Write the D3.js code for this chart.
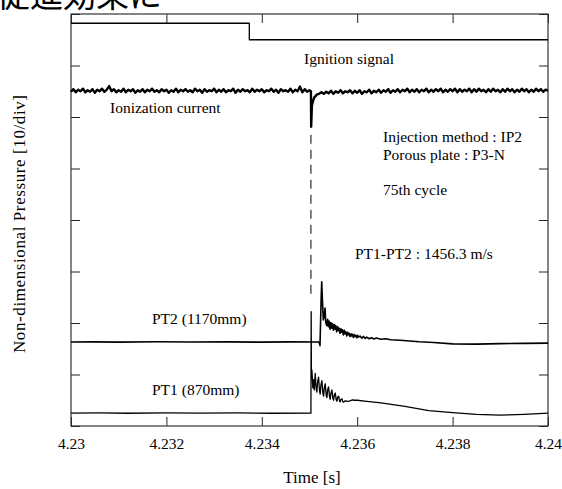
<!DOCTYPE html>
<html>
<head>
<meta charset="utf-8">
<script src="https://cdn.jsdelivr.net/npm/d3@7"></script>
<style>
  body { margin: 0; background: #fff; }
  svg { display: block; font-family: "Liberation Serif", "DejaVu Serif", serif; }
</style>
</head>
<body>
<svg id="canvas" width="562" height="489"></svg>
<script>
'use strict';

/* x axis ticks (time in s) */
var timeTicks = [4.23, 4.232, 4.234, 4.236, 4.238, 4.24];
var timeLabels = ['4.23', '4.232', '4.234', '4.236', '4.238', '4.24'];
/* y axis: 8 divisions, no labels */
var divTicks = [0, 1, 2, 3, 4, 5, 6, 7, 8];

/* ignition signal [t, div] */
var ignition = [[4.23, 7.82], [4.233738, 7.82], [4.233738, 7.50], [4.24, 7.50]];

/* ionization current [t, div] */
var ionization = [
  [4.23000, 6.49], [4.23005, 6.54], [4.23010, 6.48], [4.23015, 6.53], [4.23020, 6.50],
  [4.23025, 6.55], [4.23030, 6.48], [4.23035, 6.52], [4.23040, 6.49], [4.23045, 6.54],
  [4.23050, 6.47], [4.23055, 6.53], [4.23060, 6.50], [4.23065, 6.55], [4.23070, 6.49],
  [4.23075, 6.53], [4.23080, 6.60], [4.23085, 6.50], [4.23090, 6.54], [4.23095, 6.48],
  [4.23100, 6.52], [4.23105, 6.49], [4.23110, 6.55], [4.23115, 6.48], [4.23120, 6.53],
  [4.23125, 6.50], [4.23130, 6.54], [4.23135, 6.47], [4.23140, 6.52], [4.23145, 6.49],
  [4.23150, 6.54], [4.23155, 6.48], [4.23160, 6.53], [4.23165, 6.50], [4.23170, 6.55],
  [4.23175, 6.49], [4.23180, 6.52], [4.23185, 6.48], [4.23190, 6.54], [4.23195, 6.50],
  [4.23200, 6.53], [4.23205, 6.47], [4.23210, 6.52], [4.23215, 6.49], [4.23220, 6.55],
  [4.23225, 6.48], [4.23230, 6.53], [4.23235, 6.50], [4.23240, 6.54], [4.23245, 6.49],
  [4.23250, 6.52], [4.23255, 6.48], [4.23260, 6.55], [4.23265, 6.50], [4.23270, 6.53],
  [4.23275, 6.47], [4.23280, 6.54], [4.23285, 6.49], [4.23290, 6.52], [4.23295, 6.50],
  [4.23300, 6.55], [4.23305, 6.48], [4.23310, 6.53], [4.23315, 6.49], [4.23320, 6.54],
  [4.23325, 6.48], [4.23330, 6.52], [4.23335, 6.50], [4.23340, 6.55], [4.23345, 6.47],
  [4.23350, 6.53], [4.23355, 6.49], [4.23360, 6.54], [4.23365, 6.50], [4.23370, 6.52],
  [4.23375, 6.48], [4.23380, 6.55], [4.23385, 6.49], [4.23390, 6.53], [4.23395, 6.50],
  [4.23400, 6.54], [4.23405, 6.48], [4.23410, 6.52], [4.23415, 6.50], [4.23420, 6.55],
  [4.23425, 6.49], [4.23430, 6.53], [4.23435, 6.47], [4.23440, 6.54], [4.23445, 6.50],
  [4.23450, 6.52], [4.23455, 6.49], [4.23460, 6.55], [4.23465, 6.48], [4.23470, 6.53],
  [4.23475, 6.50], [4.23480, 6.59], [4.23485, 6.48], [4.23490, 6.54], [4.23495, 6.49],
  [4.23500, 6.52], [4.23503, 6.50], [4.235035, 5.81], [4.23505, 6.22], [4.23507, 6.30],
  [4.23510, 6.38], [4.23513, 6.41], [4.23516, 6.44], [4.23520, 6.45], [4.23525, 6.48],
  [4.23530, 6.45], [4.23535, 6.49],
  [4.23540, 6.46], [4.23545, 6.51], [4.23550, 6.45], [4.23555, 6.50], [4.23560, 6.47],
  [4.23565, 6.52], [4.23570, 6.46], [4.23575, 6.50], [4.23580, 6.48], [4.23585, 6.52],
  [4.23590, 6.46], [4.23595, 6.51], [4.23600, 6.47], [4.23605, 6.52], [4.23610, 6.45],
  [4.23615, 6.50], [4.23620, 6.48], [4.23625, 6.53], [4.23630, 6.46], [4.23635, 6.51],
  [4.23640, 6.48], [4.23645, 6.53], [4.23650, 6.47], [4.23655, 6.52], [4.23660, 6.49],
  [4.23665, 6.54], [4.23670, 6.47], [4.23675, 6.52], [4.23680, 6.49], [4.23685, 6.54],
  [4.23690, 6.48], [4.23695, 6.53], [4.23700, 6.50], [4.23705, 6.55], [4.23710, 6.48],
  [4.23715, 6.53], [4.23720, 6.49], [4.23725, 6.54], [4.23730, 6.48], [4.23735, 6.53],
  [4.23740, 6.50], [4.23745, 6.55], [4.23750, 6.48], [4.23755, 6.53], [4.23760, 6.49],
  [4.23765, 6.54], [4.23770, 6.50], [4.23775, 6.55], [4.23780, 6.48], [4.23785, 6.53],
  [4.23790, 6.49], [4.23795, 6.54], [4.23800, 6.50], [4.23805, 6.55], [4.23810, 6.48],
  [4.23815, 6.54], [4.23820, 6.49], [4.23825, 6.53], [4.23830, 6.50], [4.23835, 6.55],
  [4.23840, 6.48], [4.23845, 6.54], [4.23850, 6.49], [4.23855, 6.55], [4.23860, 6.50],
  [4.23865, 6.53], [4.23870, 6.48], [4.23875, 6.54], [4.23880, 6.49], [4.23885, 6.55],
  [4.23890, 6.50], [4.23895, 6.53], [4.23900, 6.48], [4.23905, 6.54], [4.23910, 6.49],
  [4.23915, 6.55], [4.23920, 6.50], [4.23925, 6.54], [4.23930, 6.48], [4.23935, 6.53],
  [4.23940, 6.49], [4.23945, 6.55], [4.23950, 6.50], [4.23955, 6.54], [4.23960, 6.48],
  [4.23965, 6.53], [4.23970, 6.49], [4.23975, 6.55], [4.23980, 6.50], [4.23985, 6.54],
  [4.23990, 6.49], [4.23995, 6.53], [4.24000, 6.51]
];

/* PT2 (1170mm) pressure [t, div] */
var pt2 = [
  [4.2300, 1.63], [4.2305, 1.634], [4.2310, 1.628], [4.2318, 1.635], [4.2325, 1.63],
  [4.2333, 1.633], [4.2340, 1.628], [4.2346, 1.634], [4.2352, 1.63], [4.23522, 1.56],
  [4.235245, 2.50], [4.235256, 2.80], [4.23527, 2.45], [4.23529, 2.06], [4.23531, 2.15],
  [4.235325, 2.29], [4.23534, 2.02], [4.23536, 1.95], [4.23538, 2.07], [4.235395, 1.93],
  [4.23541, 2.04], [4.23543, 1.88], [4.235445, 2.01], [4.235465, 1.90], [4.23548, 1.99],
  [4.2355, 1.86], [4.23552, 1.97], [4.235535, 1.88], [4.23555, 1.95], [4.23557, 1.83],
  [4.23559, 1.93], [4.235605, 1.85], [4.23562, 1.90], [4.23564, 1.80], [4.23566, 1.89],
  [4.235675, 1.82], [4.23569, 1.87], [4.23571, 1.77], [4.23573, 1.86], [4.235745, 1.79],
  [4.23576, 1.83], [4.23578, 1.75], [4.2358, 1.82], [4.235815, 1.77], [4.23583, 1.80],
  [4.23585, 1.74], [4.23587, 1.79], [4.235885, 1.75], [4.2359, 1.78], [4.23592, 1.72],
  [4.23594, 1.775], [4.235955, 1.74], [4.23597, 1.76], [4.23599, 1.715], [4.23601, 1.76],
  [4.236025, 1.725], [4.23606, 1.745], [4.2361, 1.705], [4.23613, 1.74], [4.23617, 1.70],
  [4.2362, 1.725], [4.23625, 1.695], [4.2363, 1.715], [4.23635, 1.69], [4.2364, 1.71],
  [4.2365, 1.685], [4.2366, 1.695], [4.2367, 1.675], [4.2369, 1.665], [4.2371, 1.65],
  [4.2373, 1.635], [4.2376, 1.62], [4.2380, 1.595], [4.2385, 1.59], [4.2390, 1.60],
  [4.2395, 1.605], [4.2400, 1.61]
];

/* PT1 (870mm) pressure [t, div] */
var pt1 = [
  [4.2300, 0.25], [4.2306, 0.254], [4.2312, 0.248], [4.2320, 0.253], [4.2327, 0.249],
  [4.2335, 0.254], [4.2342, 0.248], [4.23503, 0.25], [4.235035, 2.22], [4.23504, 0.95],
  [4.23505, 1.09], [4.23507, 0.74], [4.235085, 0.90], [4.2351, 0.70], [4.23512, 1.02],
  [4.23514, 0.72], [4.235155, 0.66], [4.23517, 0.86], [4.23519, 0.95], [4.23521, 0.68],
  [4.235225, 0.62], [4.23524, 0.80], [4.23526, 0.88], [4.23528, 0.64], [4.235295, 0.58],
  [4.23531, 0.74], [4.23533, 0.82], [4.23535, 0.60], [4.235365, 0.55], [4.23538, 0.70],
  [4.2354, 0.76], [4.23542, 0.57], [4.235435, 0.52], [4.23545, 0.64], [4.23547, 0.70],
  [4.23549, 0.54], [4.235505, 0.50], [4.23552, 0.60], [4.23554, 0.64], [4.23556, 0.51],
  [4.235575, 0.48], [4.23559, 0.56], [4.23561, 0.58], [4.23563, 0.49], [4.235645, 0.47],
  [4.23566, 0.52], [4.23568, 0.53], [4.2357, 0.47], [4.235715, 0.465], [4.23575, 0.49],
  [4.2358, 0.48], [4.23585, 0.49], [4.2359, 0.505], [4.23595, 0.50], [4.2360, 0.50],
  [4.2362, 0.48], [4.2365, 0.45], [4.2370, 0.38], [4.2375, 0.30], [4.2380, 0.26],
  [4.2385, 0.225], [4.2390, 0.21], [4.2395, 0.225], [4.2400, 0.25]
];

/* dashed marker between the ionization dip and the PT spike */
var marker = { t: 4.23503, from: 5.81, to: 2.22 };

var app;

class Application {

  constructor() {
    this._svg = d3.select('svg#canvas');
    this._x = d3.scaleLinear().domain([4.23, 4.24]).range([71, 548]);
    this._y = d3.scaleLinear().domain([0, 8]).range([426, 14]);
  }

  /* frame and inward ticks on the four sides */
  drawAxes() {
    let x = this._x, y = this._y, svg = this._svg;
    let tick = 9;

    let bottom = svg.append('g')
      .attr('transform', 'translate(0,' + y(0) + ')')
      .call(d3.axisBottom(x).tickValues(timeTicks).tickSize(-tick).tickPadding(12)
        .tickFormat(function(d, i){ return timeLabels[i]; }));
    let top = svg.append('g')
      .attr('transform', 'translate(0,' + y(8) + ')')
      .call(d3.axisTop(x).tickValues(timeTicks).tickSize(-tick).tickFormat(''));
    let left = svg.append('g')
      .attr('transform', 'translate(' + x(4.23) + ',0)')
      .call(d3.axisLeft(y).tickValues(divTicks).tickSize(-tick).tickFormat(''));
    let right = svg.append('g')
      .attr('transform', 'translate(' + x(4.24) + ',0)')
      .call(d3.axisRight(y).tickValues(divTicks).tickSize(-tick).tickFormat(''));

    [bottom, top, left, right].forEach(function(g){
      g.select('.domain').remove();
      g.attr('font-family', '"Liberation Serif", serif');
      g.selectAll('line').attr('stroke', '#222').attr('stroke-width', 1);
    });
    bottom.attr('font-size', 15.5);
    bottom.selectAll('text').attr('fill', '#000');

    svg.append('rect')
      .attr('x', x(4.23)).attr('y', y(8))
      .attr('width', x(4.24) - x(4.23)).attr('height', y(0) - y(8))
      .attr('fill', 'none').attr('stroke', '#333').attr('stroke-width', 1.2);
  }

  /* plot the measured traces */
  plot() {
    let x = this._x, y = this._y, svg = this._svg;
    let line = d3.line()
      .x(function(d){ return x(d[0]); })
      .y(function(d){ return y(d[1]); });

    let traces = [
      { data: ignition, width: 1.3 },
      { data: ionization, width: 2.4 },
      { data: pt2, width: 1.6 },
      { data: pt1, width: 1.3 }
    ];
    svg.append('g').attr('id', 'traces')
      .selectAll('path')
      .data(traces)
      .enter().append('path')
        .attr('d', function(d){ return line(d.data); })
        .attr('fill', 'none')
        .attr('stroke', '#000')
        .attr('stroke-width', function(d){ return d.width; })
        .attr('stroke-linejoin', 'round');

    svg.append('line')
      .attr('x1', x(marker.t)).attr('x2', x(marker.t))
      .attr('y1', y(marker.from) + 8).attr('y2', y(marker.to) - 14)
      .attr('stroke', '#000').attr('stroke-width', 1)
      .attr('stroke-dasharray', '9,6');
  }

  /* annotations and axis titles */
  labels() {
    let svg = this._svg;
    let notes = [
      { text: 'Ignition signal', x: 304, y: 63.5 },
      { text: 'Ionization current', x: 110, y: 113 },
      { text: 'Injection method : IP2', x: 383, y: 142 },
      { text: 'Porous plate : P3-N', x: 383, y: 160 },
      { text: '75th cycle', x: 383, y: 195 },
      { text: 'PT1-PT2 : 1456.3 m/s', x: 355, y: 259 },
      { text: 'PT2 (1170mm)', x: 152, y: 324 },
      { text: 'PT1 (870mm)', x: 152, y: 395 }
    ];
    svg.append('g').selectAll('text')
      .data(notes)
      .enter().append('text')
        .attr('x', function(d){ return d.x; })
        .attr('y', function(d){ return d.y; })
        .attr('font-size', 15.5)
        .text(function(d){ return d.text; });

    svg.append('text')
      .attr('x', 312).attr('y', 483)
      .attr('text-anchor', 'middle')
      .attr('font-size', 17)
      .text('Time [s]');

    svg.append('text')
      .attr('transform', 'translate(25,224) rotate(-90)')
      .attr('text-anchor', 'middle')
      .attr('font-size', 17)
      .attr('textLength', 258)
      .attr('lengthAdjust', 'spacing')
      .text('Non-dimensional Pressure [10/div]');

    /* cropped heading of the page above the figure */
    svg.append('text')
      .attr('x', -3).attr('y', 7)
      .attr('font-family', '"Noto Sans CJK JP", sans-serif')
      .attr('font-size', 33)
      .text('促進効果に');
  }
}

app = new Application();
app.drawAxes();
app.plot();
app.labels();
</script>
</body>
</html>
